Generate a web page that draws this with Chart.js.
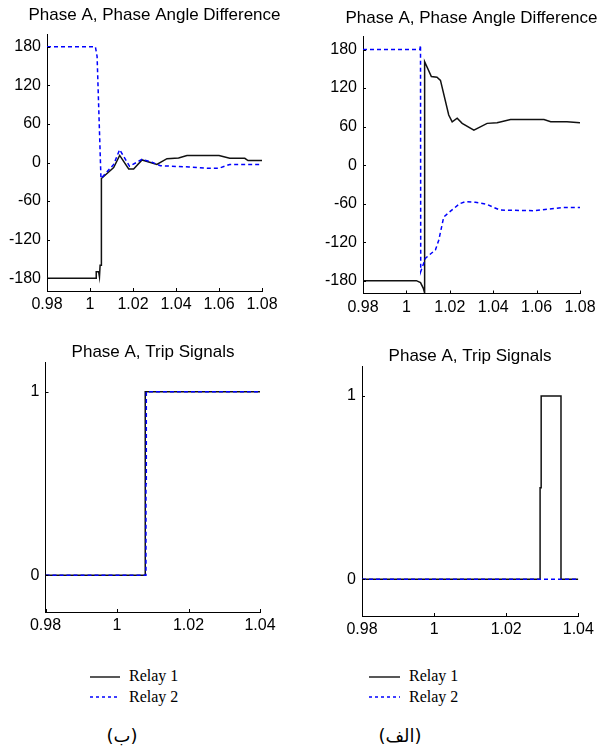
<!DOCTYPE html>
<html>
<head>
<meta charset="utf-8">
<script src="https://cdn.jsdelivr.net/npm/chart.js@4.4.1/dist/chart.umd.min.js"></script>
<style>
    html, body { margin: 0; padding: 0; background: #fff; }
    #pagina { position: relative; width: 598px; height: 751px; overflow: hidden; background: #fff; }
    #pagina canvas { position: absolute; }
    .legenda { position: absolute; font-family: "Liberation Serif", "Times New Roman", serif; font-size: 16px; line-height: 20px; color: #000; white-space: nowrap; }
    .legenda svg { position: absolute; left: 0; top: 0; }
    .legenda span { position: absolute; }
    .rotulo { position: absolute; width: 80px; text-align: center; font-family: "DejaVu Sans", sans-serif; font-size: 18px; line-height: 22px; color: #000; }
</style>
</head>
<body>
<div id="pagina">
    <canvas id="anguloB" width="309" height="330" style="left:0px; top:0px;"></canvas>
    <canvas id="anguloA" width="307" height="330" style="left:318px; top:0px;"></canvas>
    <canvas id="disparoB" width="306" height="310" style="left:0px; top:330px;"></canvas>
    <canvas id="disparoA" width="306" height="310" style="left:317px; top:330px;"></canvas>

    <div class="legenda" style="left:88px; top:666px;">
        <svg width="36" height="42">
            <line x1="2" y1="11" x2="32" y2="11" stroke="#111" stroke-width="1.4"/>
            <line x1="2" y1="31" x2="32" y2="31" stroke="#0000ff" stroke-width="1.4" stroke-dasharray="3,3"/>
        </svg>
        <span style="left:41px; top:0px;">Relay 1</span>
        <span style="left:41px; top:21px;">Relay 2</span>
    </div>
    <div class="legenda" style="left:367px; top:666px;">
        <svg width="36" height="42">
            <line x1="2" y1="11" x2="33" y2="11" stroke="#111" stroke-width="1.4"/>
            <line x1="2" y1="31" x2="33" y2="31" stroke="#0000ff" stroke-width="1.4" stroke-dasharray="3,3"/>
        </svg>
        <span style="left:42px; top:0px;">Relay 1</span>
        <span style="left:42px; top:21px;">Relay 2</span>
    </div>

    <div class="rotulo" dir="rtl" style="left:82px; top:725px;">(ب)</div>
    <div class="rotulo" dir="rtl" style="left:360px; top:725px;">(الف)</div>
</div>

<script>
// Títulos
const tituloAngulo = 'Phase A, Phase Angle Difference';
const tituloDisparo = 'Phase A, Trip Signals';
const nomeRele1 = 'Relay 1';
const nomeRele2 = 'Relay 2';

// Marcas dos eixos
const ticksTempoAngulo = [0.98, 1, 1.02, 1.04, 1.06, 1.08];
const ticksTempoDisparo = [0.98, 1, 1.02, 1.04];
const ticksAngulo = [-180, -120, -60, 0, 60, 120, 180];
const ticksDisparo = [0, 1];

// (ب) diferença de ângulo - relé 1
const tempoAnguloB1 = [0.98, 1.0029, 1.0029, 1.0040, 1.0044, 1.0047, 1.0052, 1.0053, 1.011, 1.0138, 1.018, 1.0203, 1.0242, 1.0311, 1.0358, 1.0412, 1.0451, 1.06, 1.065, 1.072, 1.0735, 1.08];
const anguloB1 = [-180, -180, -170, -170, -178, -160, -160, -25, -8, 11, -10, -10, 4, -3, 6, 7, 11, 11, 6.5, 6.5, 3, 3];
// (ب) diferença de ângulo - relé 2
const tempoAnguloB2 = [0.98, 1.0025, 1.0033, 1.0051, 1.011, 1.0138, 1.0184, 1.0242, 1.0288, 1.0327, 1.0461, 1.055, 1.06, 1.065, 1.08];
const anguloB2 = [180, 180, 165, -25, -3, 20, -6, 5, 0.5, -5, -7, -9, -9, -3, -3];

// (الف) diferença de ângulo - relé 1
const tempoAnguloA1 = [0.98, 1.0046, 1.0065, 1.0078, 1.0083, 1.0084, 1.0115, 1.0141, 1.0157, 1.0195, 1.0211, 1.0234, 1.0257, 1.0311, 1.0372, 1.0418, 1.048, 1.0634, 1.0665, 1.074, 1.08];
const anguloA1 = [-180, -180, -183, -192, -198, 161, 138, 137, 132, 78, 67.5, 73, 65, 54.6, 65, 66, 71, 71, 67.5, 67.5, 66];
// (الف) diferença de ângulo - relé 2
const tempoAnguloA2 = [0.98, 1.0062, 1.0065, 1.0066, 1.0088, 1.0134, 1.0149, 1.0172, 1.0195, 1.0246, 1.0272, 1.0318, 1.0369, 1.0431, 1.0585, 1.0723, 1.08];
const anguloA2 = [180, 180, 187, -166, -145, -132, -117, -81, -74, -60, -57, -58, -61, -70, -71, -66, -66];

// (ب) sinais de disparo
const tempoDisparoB1 = [0.98, 1.0079, 1.0079, 1.04];
const disparoB1 = [0, 0, 1, 1];
const tempoDisparoB2 = [0.98, 1.0081, 1.0081, 1.0082, 1.0082, 1.04];
const disparoB2 = [0, 0, 0.5, 0.5, 1, 1];

// (الف) sinais de disparo
const tempoDisparoA1 = [0.98, 1.0294, 1.0294, 1.0297, 1.0297, 1.0352, 1.0352, 1.04];
const disparoA1 = [0, 0, 0.5, 0.5, 1, 1, 0, 0];
const tempoDisparoA2 = [0.98, 1.04];
const disparoA2 = [0, 0];

const fonteEixo = { family: '"Liberation Sans", Arial, sans-serif', size: 16 };

// Montar pontos {x, y}
function pontos(xs, ys) {
    return xs.map((x, i) => ({ x: x, y: ys[i] }));
}

// Marcas dos eixos para dentro (estilo MATLAB)
const marcasInternas = {
    id: 'marcasInternas',
    afterDraw(chart) {
        const { ctx, chartArea, scales } = chart;
        ctx.save();
        ctx.strokeStyle = '#000';
        ctx.lineWidth = 1;
        scales.x.ticks.forEach(t => {
            const px = Math.round(scales.x.getPixelForValue(t.value)) + 0.5;
            ctx.beginPath();
            ctx.moveTo(px, chartArea.bottom);
            ctx.lineTo(px, chartArea.bottom - 3);
            ctx.stroke();
        });
        scales.y.ticks.forEach(t => {
            const py = Math.round(scales.y.getPixelForValue(t.value)) + 0.5;
            ctx.beginPath();
            ctx.moveTo(chartArea.left, py);
            ctx.lineTo(chartArea.left + 3, py);
            ctx.stroke();
        });
        ctx.restore();
    }
};

// Criar um gráfico
function criarGrafico(id, cfg) {
    const ctx = document.getElementById(id).getContext('2d');
    return new Chart(ctx, {
        type: 'line',
        data: {
            datasets: [{
                label: nomeRele1,
                data: pontos(cfg.x1, cfg.y1),
                borderColor: '#111111',
                borderWidth: 1.5,
                pointRadius: 0,
                tension: 0,
                order: 2
            }, {
                label: nomeRele2,
                data: pontos(cfg.x2, cfg.y2),
                borderColor: '#0000ff',
                borderWidth: 1.5,
                borderDash: [4, 3],
                pointRadius: 0,
                tension: 0,
                order: 1
            }]
        },
        options: {
            responsive: false,
            animation: false,
            events: [],
            layout: { padding: 0 },
            plugins: {
                legend: { display: false },
                tooltip: { enabled: false },
                title: {
                    display: true,
                    text: cfg.titulo,
                    color: '#000',
                    font: { family: fonteEixo.family, size: 17, weight: 'normal', lineHeight: 1.2 },
                    padding: { top: cfg.tituloTopo, bottom: cfg.tituloBase }
                }
            },
            scales: {
                x: {
                    type: 'linear',
                    min: cfg.xMin,
                    max: cfg.xMax,
                    grid: { display: false, drawTicks: false },
                    border: { display: true, color: '#000', width: 1 },
                    ticks: {
                        color: '#000',
                        font: fonteEixo,
                        padding: 4,
                        maxRotation: 0,
                        autoSkip: false,
                        callback: v => String(Math.round(v * 1000) / 1000)
                    },
                    afterBuildTicks: s => { s.ticks = cfg.ticksX.map(v => ({ value: v })); },
                    afterFit: s => { s.height = cfg.alturaX; s.paddingRight = cfg.margemDir; }
                },
                y: {
                    min: cfg.yMin,
                    max: cfg.yMax,
                    grid: { display: false, drawTicks: false },
                    border: { display: true, color: '#000', width: 1 },
                    ticks: {
                        color: '#000',
                        font: fonteEixo,
                        padding: 6,
                        autoSkip: false
                    },
                    afterBuildTicks: s => { s.ticks = cfg.ticksY.map(v => ({ value: v })); },
                    afterFit: s => { s.width = cfg.larguraY; }
                }
            }
        },
        plugins: [marcasInternas]
    });
}

document.addEventListener('DOMContentLoaded', () => {
    criarGrafico('anguloB', {
        titulo: tituloAngulo, tituloTopo: 5.4, tituloBase: 8.2,
        x1: tempoAnguloB1, y1: anguloB1, x2: tempoAnguloB2, y2: anguloB2,
        xMin: 0.98, xMax: 1.08, yMin: -200, yMax: 200,
        ticksX: ticksTempoAngulo, ticksY: ticksAngulo,
        larguraY: 47, margemDir: 47, alturaX: 39
    });
    criarGrafico('anguloA', {
        titulo: tituloAngulo, tituloTopo: 8.4, tituloBase: 7.9,
        x1: tempoAnguloA1, y1: anguloA1, x2: tempoAnguloA2, y2: anguloA2,
        xMin: 0.98, xMax: 1.08, yMin: -200, yMax: 200,
        ticksX: ticksTempoAngulo, ticksY: ticksAngulo,
        larguraY: 45, margemDir: 45, alturaX: 36.5
    });
    criarGrafico('disparoB', {
        titulo: tituloDisparo, tituloTopo: 12, tituloBase: 0,
        x1: tempoDisparoB1, y1: disparoB1, x2: tempoDisparoB2, y2: disparoB2,
        xMin: 0.98, xMax: 1.04, yMin: -0.2, yMax: 1.16,
        ticksX: ticksTempoDisparo, ticksY: ticksDisparo,
        larguraY: 45.5, margemDir: 46, alturaX: 28
    });
    criarGrafico('disparoA', {
        titulo: tituloDisparo, tituloTopo: 15.8, tituloBase: 0.5,
        x1: tempoDisparoA1, y1: disparoA1, x2: tempoDisparoA2, y2: disparoA2,
        xMin: 0.98, xMax: 1.04, yMin: -0.2, yMax: 1.16,
        ticksX: ticksTempoDisparo, ticksY: ticksDisparo,
        larguraY: 45, margemDir: 44.7, alturaX: 24
    });
});
</script>
</body>
</html>
